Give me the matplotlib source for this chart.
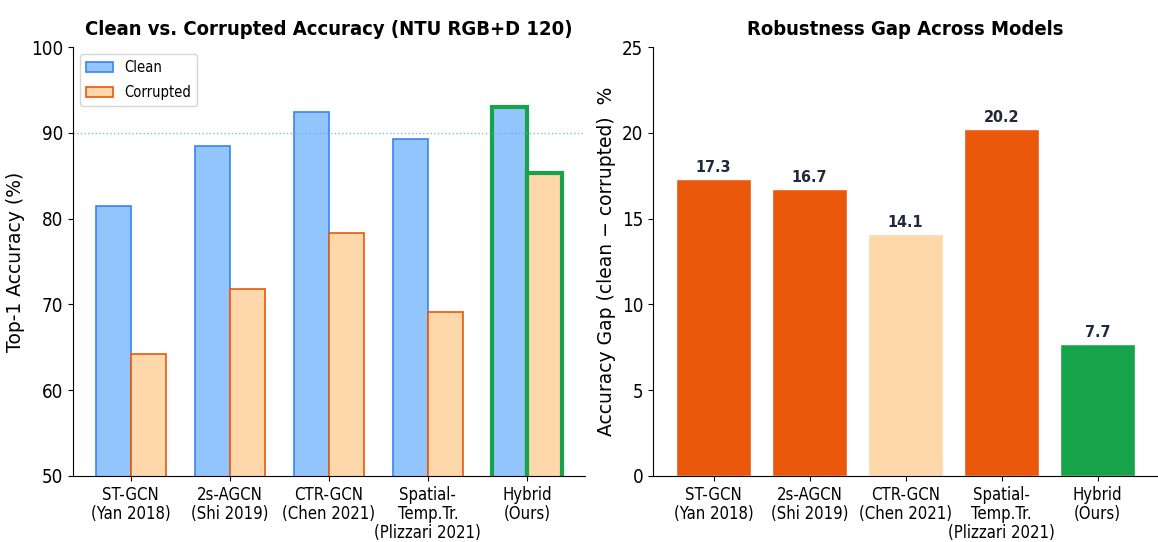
import numpy as np
import matplotlib
matplotlib.use("Agg")
import matplotlib.pyplot as plt

MODELS = ["ST-GCN\n(Yan 2018)", "2s-AGCN\n(Shi 2019)", "CTR-GCN\n(Chen 2021)",
          "Spatial-\nTemp.Tr.\n(Plizzari 2021)", "Hybrid\n(Ours)"]
CLEAN = [81.5, 88.5, 92.4, 89.3, 93.0]
CORRUPTED = [64.2, 71.8, 78.3, 69.1, 85.3]
GAP = [17.3, 16.7, 14.1, 20.2, 7.7]
GAP_COLORS = ["#ea580c", "#ea580c", "#fed7aa", "#ea580c", "#16a34a"]

plt.rcParams["font.family"] = ["DejaVu Sans"]
plt.rcParams["font.stretch"] = "condensed"

fig = plt.figure(figsize=(11.58, 5.42), dpi=100)
ax1 = fig.add_axes([0.063, 0.122, 0.442, 0.791])
ax2 = fig.add_axes([0.564, 0.122, 0.436, 0.791])

x = np.arange(len(MODELS))
w = 0.35
b1 = ax1.bar(x - w / 2, CLEAN, w, color="#93c5fd", edgecolor="#3b82f6", lw=1.2, label="Clean")
b2 = ax1.bar(x + w / 2, CORRUPTED, w, color="#fed7aa", edgecolor="#ea580c", lw=1.2, label="Corrupted")
for b in (b1[-1], b2[-1]):
    b.set_edgecolor("#16a34a")
    b.set_linewidth(3)
ax1.axhline(90, color="#60a5fa", ls=":", lw=1, alpha=0.8)
ax1.set_ylim(50, 100)
ax1.set_xticks(x)
ax1.set_xticklabels(MODELS, fontsize=12, linespacing=1.1)
ax1.tick_params(axis="y", labelsize=13.5)
ax1.set_ylabel("Top-1 Accuracy (%)", fontsize=13.5, fontstretch="normal")
ax1.set_title("Clean vs. Corrupted Accuracy (NTU RGB+D 120)", fontsize=14.5, fontweight="bold", pad=9)
ax1.legend(loc="upper left", fontsize=10.5, handlelength=1.85, labelspacing=0.7)
ax1.spines[["top", "right"]].set_visible(False)

bars = ax2.bar(x, GAP, 0.78, color=GAP_COLORS, edgecolor="white", lw=1)
for b, g in zip(bars, GAP):
    ax2.text(b.get_x() + b.get_width() / 2, g + 0.25, f"{g:.1f}", ha="center", va="bottom",
             fontsize=11.5, fontweight="bold", color="#1e293b")
ax2.set_ylim(0, 25)
ax2.set_xticks(x)
ax2.set_xticklabels(MODELS, fontsize=12, linespacing=1.1)
ax2.tick_params(axis="y", labelsize=13.5)
ax2.set_ylabel("Accuracy Gap (clean \u2212 corrupted)  %", fontsize=13.5, fontstretch="normal")
ax2.set_title("Robustness Gap Across Models", fontsize=14.5, fontweight="bold", pad=9)
ax2.spines[["top", "right"]].set_visible(False)

fig.savefig("out.png", dpi=100)
